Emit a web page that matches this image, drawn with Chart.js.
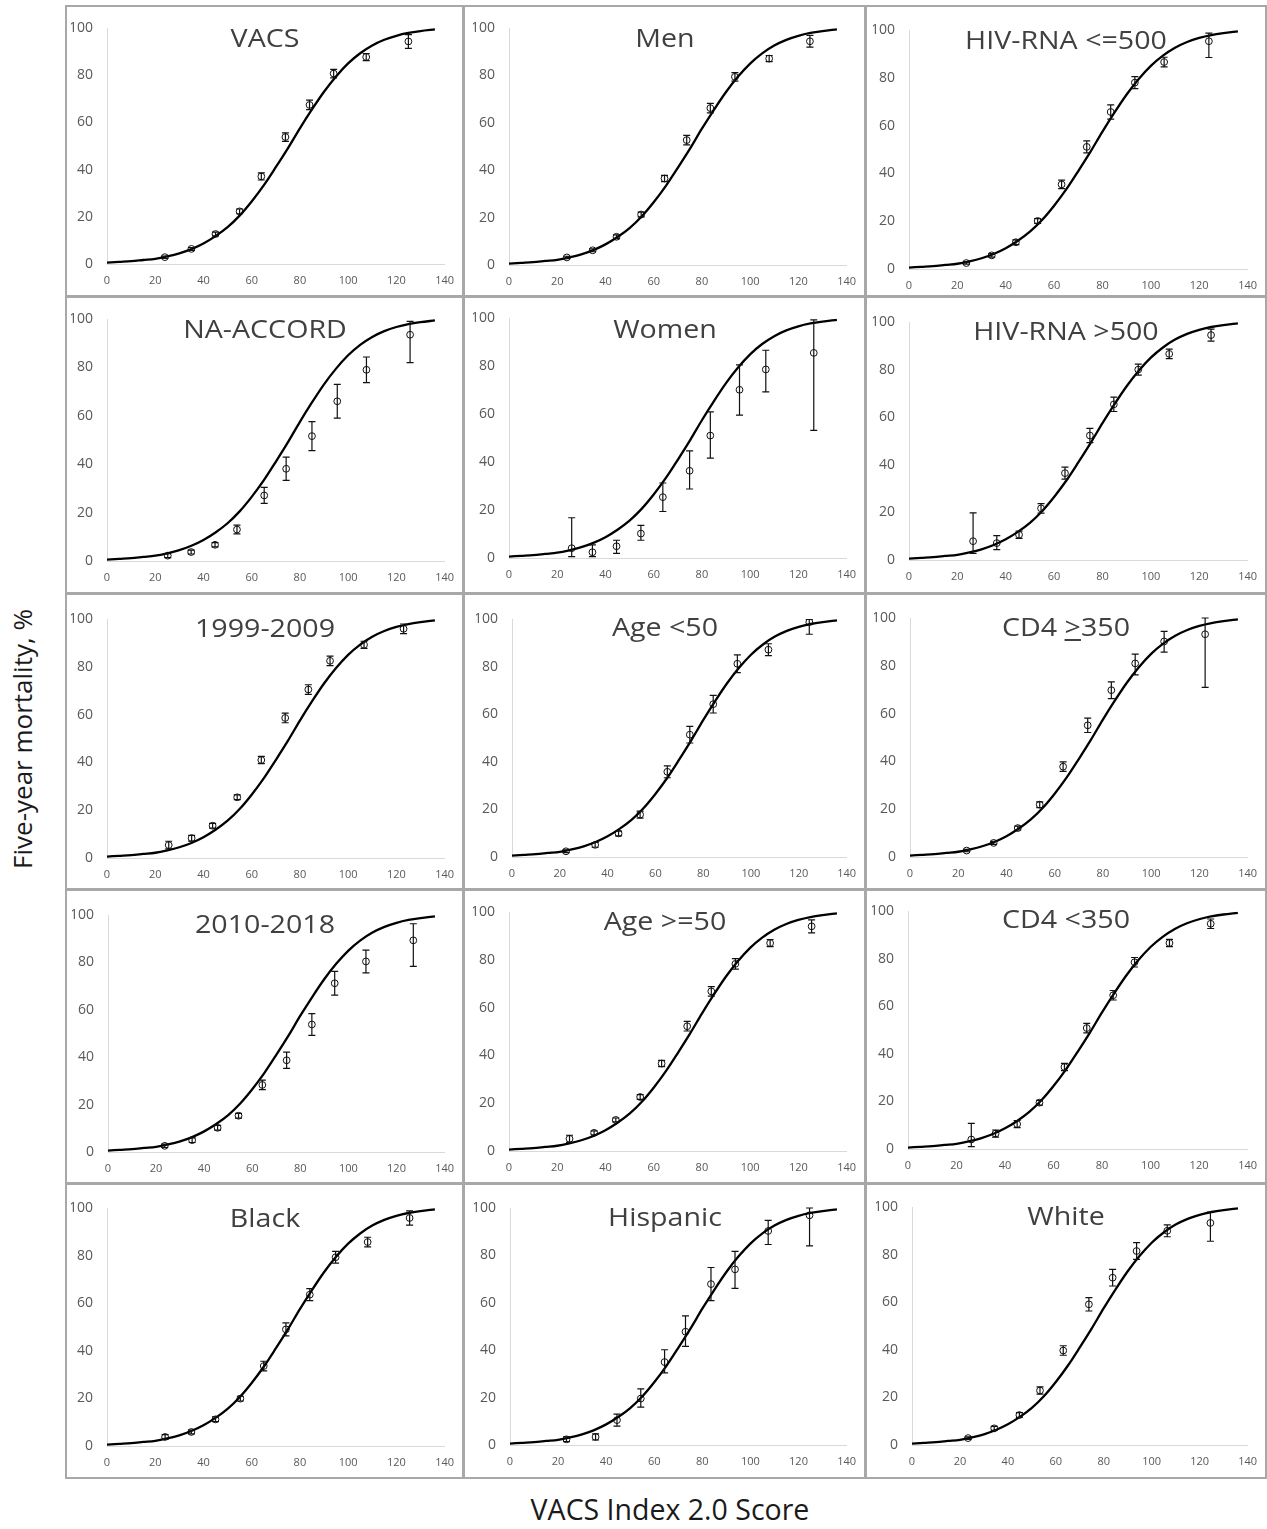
<!DOCTYPE html>
<html>
<head>
<meta charset="utf-8">
<script src="https://cdn.jsdelivr.net/npm/chart.js@4.4.1/dist/chart.umd.min.js"></script>
<style>
  body { margin: 0; width: 1267px; height: 1529px; background: #fff; position: relative; overflow: hidden; font-family: "Open Sans", sans-serif; }
  .box { position: absolute; box-sizing: border-box; border: 2px solid #a8a8a8; }
  canvas { position: absolute; }
  .ttl { position: absolute; font-size: 26px; line-height: 26px; color: #404040; white-space: nowrap; transform: translateX(-50%) scaleX(1.1); }
  .ttl u { text-underline-offset: 3px; text-decoration-thickness: 1.5px; }
  #ylab { position: absolute; left: 22px; top: 739px; font-size: 26px; line-height: 26px; color: #1a1a1a; white-space: nowrap; transform: translate(-50%, -50%) rotate(-90deg); }
  #xlab { position: absolute; left: 670px; top: 1495px; font-size: 28.5px; line-height: 28px; color: #1a1a1a; white-space: nowrap; transform: translateX(-50%); }
</style>
</head>
<body>
<div id="ylab">Five-year mortality, %</div>
<div id="xlab">VACS Index 2.0 Score</div>
<script>
// ── DATA ───────────────────────────────────────────────────────
const TITLES = ['VACS', 'Men', 'HIV-RNA &lt;=500', 'NA-ACCORD', 'Women', 'HIV-RNA &gt;500',
  '1999-2009', 'Age &lt;50', 'CD4 <u>&gt;</u>350', '2010-2018', 'Age &gt;=50', 'CD4 &lt;350',
  'Black', 'Hispanic', 'White'];
const X_TICKS = [0, 20, 40, 60, 80, 100, 120, 140];
const Y_TICKS = [0, 20, 40, 60, 80, 100];

// fitted model curve
const curveX = [0, 5, 10, 15, 20, 25, 30, 35, 40, 45, 50, 55, 60, 65, 70, 75, 80, 85, 90, 95, 100, 105, 110, 115, 120, 125, 130, 136];
const curveY = [0.6, 0.9, 1.2, 1.7, 2.2, 3.2, 4.5, 6.3, 8.7, 11.8, 15.6, 20.5, 26.5, 33.3, 41, 49, 57.5, 65.5, 73, 79.5, 85, 89.3, 92.6, 95, 96.7, 97.9, 98.7, 99.4];

const vacsX  = [24, 35, 45, 55, 64, 74, 84, 94, 107.5, 125];
const vacsY  = [2.9, 6.4, 12.7, 22.3, 37.1, 53.8, 67.4, 80.7, 87.7, 94.3];
const vacsLo = [2.4, 5.8, 11.9, 21.3, 35.6, 52.0, 65.4, 78.9, 86.2, 91.4];
const vacsHi = [3.4, 7.0, 13.5, 23.3, 38.6, 55.6, 69.4, 82.5, 89.2, 97.2];

const menX  = [24, 34.7, 44.6, 54.8, 64.5, 73.7, 83.5, 93.7, 107.9, 124.8];
const menY  = [3.2, 6.2, 11.9, 21.3, 36.5, 52.7, 66.2, 79.4, 87.1, 94.4];
const menLo = [2.7, 5.6, 11.1, 20.3, 35.2, 50.7, 64.2, 77.6, 85.8, 91.9];
const menHi = [3.7, 6.8, 12.7, 22.3, 37.8, 54.7, 68.2, 81.2, 88.4, 96.9];

const rnaLowX  = [23.7, 34.2, 44.2, 53.2, 63.1, 73.5, 83.4, 93.4, 105.5, 124];
const rnaLowY  = [2.5, 5.7, 11.2, 20.1, 35.4, 51.1, 65.7, 78, 86.6, 95.3];
const rnaLowLo = [2.0, 5.0, 10.2, 19.1, 33.6, 48.6, 62.7, 75.5, 84.6, 88.5];
const rnaLowHi = [3.0, 6.4, 12.2, 21.1, 37.2, 53.6, 68.7, 80.5, 88.6, 98.7];

const naX  = [25.2, 34.9, 44.8, 53.9, 65.2, 74.3, 85, 95.5, 107.6, 125.7];
const naY  = [2.2, 3.7, 6.7, 13, 27.1, 38.1, 51.6, 66, 79, 93.5];
const naLo = [1.4, 2.9, 5.8, 11.2, 23.8, 33.3, 45.6, 59, 73.7, 82];
const naHi = [3.0, 4.5, 7.6, 14.8, 30.4, 42.9, 57.6, 73, 84.3, 99];

const womenX  = [26, 34.6, 44.6, 54.7, 63.8, 74.9, 83.5, 95.6, 106.5, 126.4];
const womenY  = [4.1, 2.4, 4.9, 10.2, 25.4, 36.4, 51.1, 70.2, 78.7, 85.6];
const womenLo = [0.6, 0.6, 1.9, 7.4, 19.4, 28.8, 41.7, 59.6, 69.3, 53.3];
const womenHi = [16.8, 5.5, 7.4, 13.6, 31.3, 44.7, 61, 80.6, 86.7, 99.4];

const rnaHighX  = [26.5, 36.3, 45.5, 54.6, 64.5, 74.8, 84.7, 94.8, 107.6, 124.9];
const rnaHighY  = [7.9, 7.1, 10.6, 21.7, 36.5, 52.3, 65.4, 80, 86.6, 94.5];
const rnaHighLo = [2.8, 4.4, 9.1, 19.7, 34, 49.3, 62.4, 77.7, 84.6, 92];
const rnaHighHi = [19.8, 10.2, 12.1, 23.7, 39, 55.3, 68.4, 82.3, 88.6, 97];

const early_X  = [25.6, 35.1, 43.8, 54, 64, 73.9, 83.5, 92.5, 106.6, 123];
const early_Y  = [5.4, 8.3, 13.5, 25.4, 41, 58.6, 70.5, 82.5, 89.2, 95.9];
const early_Lo = [3.8, 7.1, 12.5, 24.4, 39.5, 56.6, 68.5, 80.5, 87.7, 93.9];
const early_Hi = [7.0, 9.5, 14.5, 26.4, 42.5, 60.6, 72.5, 84.5, 90.7, 97.9];

const youngX  = [22.6, 34.8, 44.6, 53.6, 65, 74.4, 84.2, 94.3, 107.3, 124.4];
const youngY  = [2.4, 5.1, 9.9, 17.8, 35.8, 51.4, 64.2, 81.2, 87.1, 98.7];
const youngLo = [1.8, 4.1, 8.9, 16.3, 33.3, 47.9, 60.5, 77.5, 84.6, 93.6];
const youngHi = [3.0, 6.1, 10.9, 19.3, 38.3, 54.9, 67.9, 84.9, 89.6, 99.8];

const cd4HighX  = [23.5, 34.7, 44.7, 53.8, 63.5, 73.7, 83.5, 93.4, 105.4, 122.4];
const cd4HighY  = [2.7, 5.9, 12.1, 21.9, 37.8, 55.1, 69.8, 81, 90.2, 93.2];
const cd4HighLo = [2.2, 5.3, 11.3, 20.7, 35.8, 52.1, 66.3, 76.2, 85.7, 71];
const cd4HighHi = [3.2, 6.5, 12.9, 23.1, 39.8, 58.1, 73.3, 84.9, 94.4, 100];

const late_X  = [23.6, 35, 45.6, 54.3, 64.2, 74.3, 84.8, 94.3, 107.3, 127];
const late_Y  = [2.6, 5, 10.2, 15.3, 28.3, 38.7, 53.8, 71.2, 80.4, 89.3];
const late_Lo = [1.9, 4, 9.2, 14.3, 26.3, 35.3, 49.2, 66.2, 75.6, 78.3];
const late_Hi = [3.3, 6, 11.2, 16.3, 30.3, 42.1, 58.4, 76.2, 85.2, 96.3];

const olderX  = [25.1, 35.3, 44.3, 54.4, 63.3, 73.9, 83.9, 93.9, 108.3, 125.5];
const olderY  = [5.1, 7.6, 13, 22.6, 36.6, 52.2, 66.8, 78.3, 87, 94];
const olderLo = [3.6, 6.8, 12.2, 21.6, 35.3, 50.2, 64.8, 76.1, 85.5, 91.3];
const olderHi = [6.6, 8.4, 13.8, 23.6, 37.9, 54.2, 68.8, 80.5, 88.5, 96.7];

const cd4LowX  = [26.1, 36.1, 45, 54.2, 64.5, 73.7, 84.6, 93.4, 107.8, 124.8];
const cd4LowY  = [4, 6.5, 10.5, 19.5, 34.5, 50.9, 64.7, 78.6, 86.7, 94.8];
const cd4LowLo = [1, 5, 9, 18.5, 33, 48.9, 62.7, 76.6, 85.2, 92.8];
const cd4LowHi = [10.8, 8, 12, 20.5, 36, 52.9, 66.7, 80.6, 88.2, 96.8];

const blackX  = [24.1, 35, 45, 55.3, 65, 74.2, 84.1, 94.8, 108.1, 125.5];
const blackY  = [3.8, 5.9, 11.2, 19.9, 33.6, 49, 63.6, 79.3, 85.7, 95.8];
const blackLo = [2.8, 5.1, 10.2, 18.9, 31.6, 46.3, 61.1, 76.8, 83.7, 92.8];
const blackHi = [4.8, 6.7, 12.2, 20.9, 35.6, 51.7, 66.1, 81.8, 87.7, 98.8];

const hispX  = [23.5, 35.6, 44.5, 54.4, 64.3, 73, 83.6, 93.6, 107.4, 124.6];
const hispY  = [2.4, 3.4, 10.5, 19.6, 35, 47.8, 67.9, 74.1, 90.3, 96.9];
const hispLo = [1.4, 2.1, 8, 16, 30.4, 41.6, 60.9, 66.1, 84.6, 84];
const hispHi = [3.4, 4.7, 13, 23.7, 40.2, 54.5, 74.9, 81.7, 94.8, 100];

const whiteX  = [23.4, 34.3, 44.8, 53.4, 63.1, 73.8, 83.7, 93.7, 106.5, 124.5];
const whiteY  = [2.9, 7, 12.6, 22.9, 39.7, 59.1, 70.3, 81.5, 90, 93.3];
const whiteLo = [2.4, 6.2, 11.6, 21.4, 37.7, 56.3, 66.8, 78, 87.5, 85.6];
const whiteHi = [3.4, 7.8, 13.6, 24.4, 41.7, 61.9, 73.8, 85, 92.5, 97.9];

const SERIES = [
  [vacsX, vacsY, vacsLo, vacsHi], [menX, menY, menLo, menHi], [rnaLowX, rnaLowY, rnaLowLo, rnaLowHi],
  [naX, naY, naLo, naHi], [womenX, womenY, womenLo, womenHi], [rnaHighX, rnaHighY, rnaHighLo, rnaHighHi],
  [early_X, early_Y, early_Lo, early_Hi], [youngX, youngY, youngLo, youngHi], [cd4HighX, cd4HighY, cd4HighLo, cd4HighHi],
  [late_X, late_Y, late_Lo, late_Hi], [olderX, olderY, olderLo, olderHi], [cd4LowX, cd4LowY, cd4LowLo, cd4LowHi],
  [blackX, blackY, blackLo, blackHi], [hispX, hispY, hispLo, hispHi], [whiteX, whiteY, whiteLo, whiteHi]
];

// ── LAYOUT ─────────────────────────────────────────────────────
const COL_X = [65, 463, 865], COL_W = [399, 403, 402];
const ROW_Y = [5, 296, 593, 889, 1183], ROW_H = [292, 298, 297, 295, 296];
// plot area per panel: [x=0 px, x=140 px, y=100 px, y=0 px]
const PLOT = [
  [107, 447, 28, 264], [509, 847, 28, 265], [909, 1249, 30, 269],
  [107, 448, 319, 561], [509, 847, 318, 558], [909, 1250, 322, 560],
  [107, 450, 619, 858], [512, 849, 619, 857], [910, 1250, 618, 857],
  [108, 448, 915, 1152], [509, 851, 912, 1151], [908, 1251, 909, 1149],
  [107, 448, 1208, 1446], [510, 851, 1208, 1445], [912, 1251, 1207, 1445]
];
const TITLE_BASE = [47, 47, 49, 338, 338, 340, 637, 636, 636, 933, 930, 928, 1227, 1226, 1225];
const YW = 36, XH = 20;
const TICK = '#595959', FONT = '"Open Sans", sans-serif';

// ── ERROR BARS ─────────────────────────────────────────────────
const errorBars = {
  id: 'errorBars',
  afterDatasetsDraw(chart) {
    const ds = chart.data.datasets[1];
    const { x, y } = chart.scales;
    const ctx = chart.ctx;
    ctx.save();
    ctx.strokeStyle = '#111';
    ctx.lineWidth = 1.2;
    ds.data.forEach((p, i) => {
      const px = x.getPixelForValue(p.x);
      const top = y.getPixelForValue(ds.errHi[i]);
      const bot = y.getPixelForValue(ds.errLo[i]);
      ctx.beginPath();
      ctx.moveTo(px, top); ctx.lineTo(px, bot);
      ctx.moveTo(px - 3.5, top); ctx.lineTo(px + 3.5, top);
      ctx.moveTo(px - 3.5, bot); ctx.lineTo(px + 3.5, bot);
      ctx.stroke();
    });
    ctx.restore();
  }
};

// ── BUILD PANELS ───────────────────────────────────────────────
SERIES.forEach(([xs, ys, lo, hi], i) => {
  const r = Math.floor(i / 3), c = i % 3;
  const bx = COL_X[c], by = ROW_Y[r], bw = COL_W[c], bh = ROW_H[r];
  const [x0, x1, y1, y0] = PLOT[i];

  const box = document.createElement('div');
  box.className = 'box';
  Object.assign(box.style, { left: bx + 'px', top: by + 'px', width: bw + 'px', height: bh + 'px' });
  document.body.appendChild(box);

  const cv = document.createElement('canvas');
  cv.width = bw; cv.height = bh;
  Object.assign(cv.style, { left: bx + 'px', top: by + 'px', width: bw + 'px', height: bh + 'px' });
  document.body.appendChild(cv);

  const t = document.createElement('div');
  t.className = 'ttl';
  t.innerHTML = TITLES[i];
  t.style.left = (bx + bw / 2) + 'px';
  t.style.top = (TITLE_BASE[i] - 23) + 'px';
  document.body.appendChild(t);

  new Chart(cv.getContext('2d'), {
    type: 'scatter',
    data: {
      datasets: [
        { type: 'line', data: curveX.map((v, k) => ({ x: v, y: curveY[k] })), borderColor: '#000', borderWidth: 2.3,
          pointRadius: 0, fill: false, cubicInterpolationMode: 'monotone' },
        { type: 'scatter', data: xs.map((v, k) => ({ x: v, y: ys[k] })), errLo: lo, errHi: hi,
          pointStyle: 'circle', pointRadius: 3.4, borderColor: '#111', borderWidth: 1, backgroundColor: 'rgba(0,0,0,0)' }
      ]
    },
    options: {
      responsive: false, animation: false, events: [],
      layout: { padding: { left: x0 - bx - YW, right: bx + bw - x1, top: y1 - by, bottom: by + bh - y0 - XH } },
      plugins: { legend: { display: false }, tooltip: { enabled: false } },
      scales: {
        x: { type: 'linear', min: 0, max: 140,
          afterBuildTicks: s => { s.ticks = X_TICKS.map(v => ({ value: v })); },
          afterFit: s => { s.height = XH; },
          grid: { display: false, drawTicks: false }, border: { color: '#d9d9d9', width: 1 },
          ticks: { color: TICK, font: { family: FONT, size: 11 }, padding: 10, maxRotation: 0, autoSkip: false } },
        y: { min: 0, max: 100,
          afterBuildTicks: s => { s.ticks = Y_TICKS.map(v => ({ value: v })); },
          afterFit: s => { s.width = YW; },
          grid: { display: false, drawTicks: false }, border: { color: '#d9d9d9', width: 1 },
          ticks: { color: TICK, font: { family: FONT, size: 14 }, padding: 14 } }
      }
    },
    plugins: [errorBars]
  });
});
</script>
</body>
</html>
